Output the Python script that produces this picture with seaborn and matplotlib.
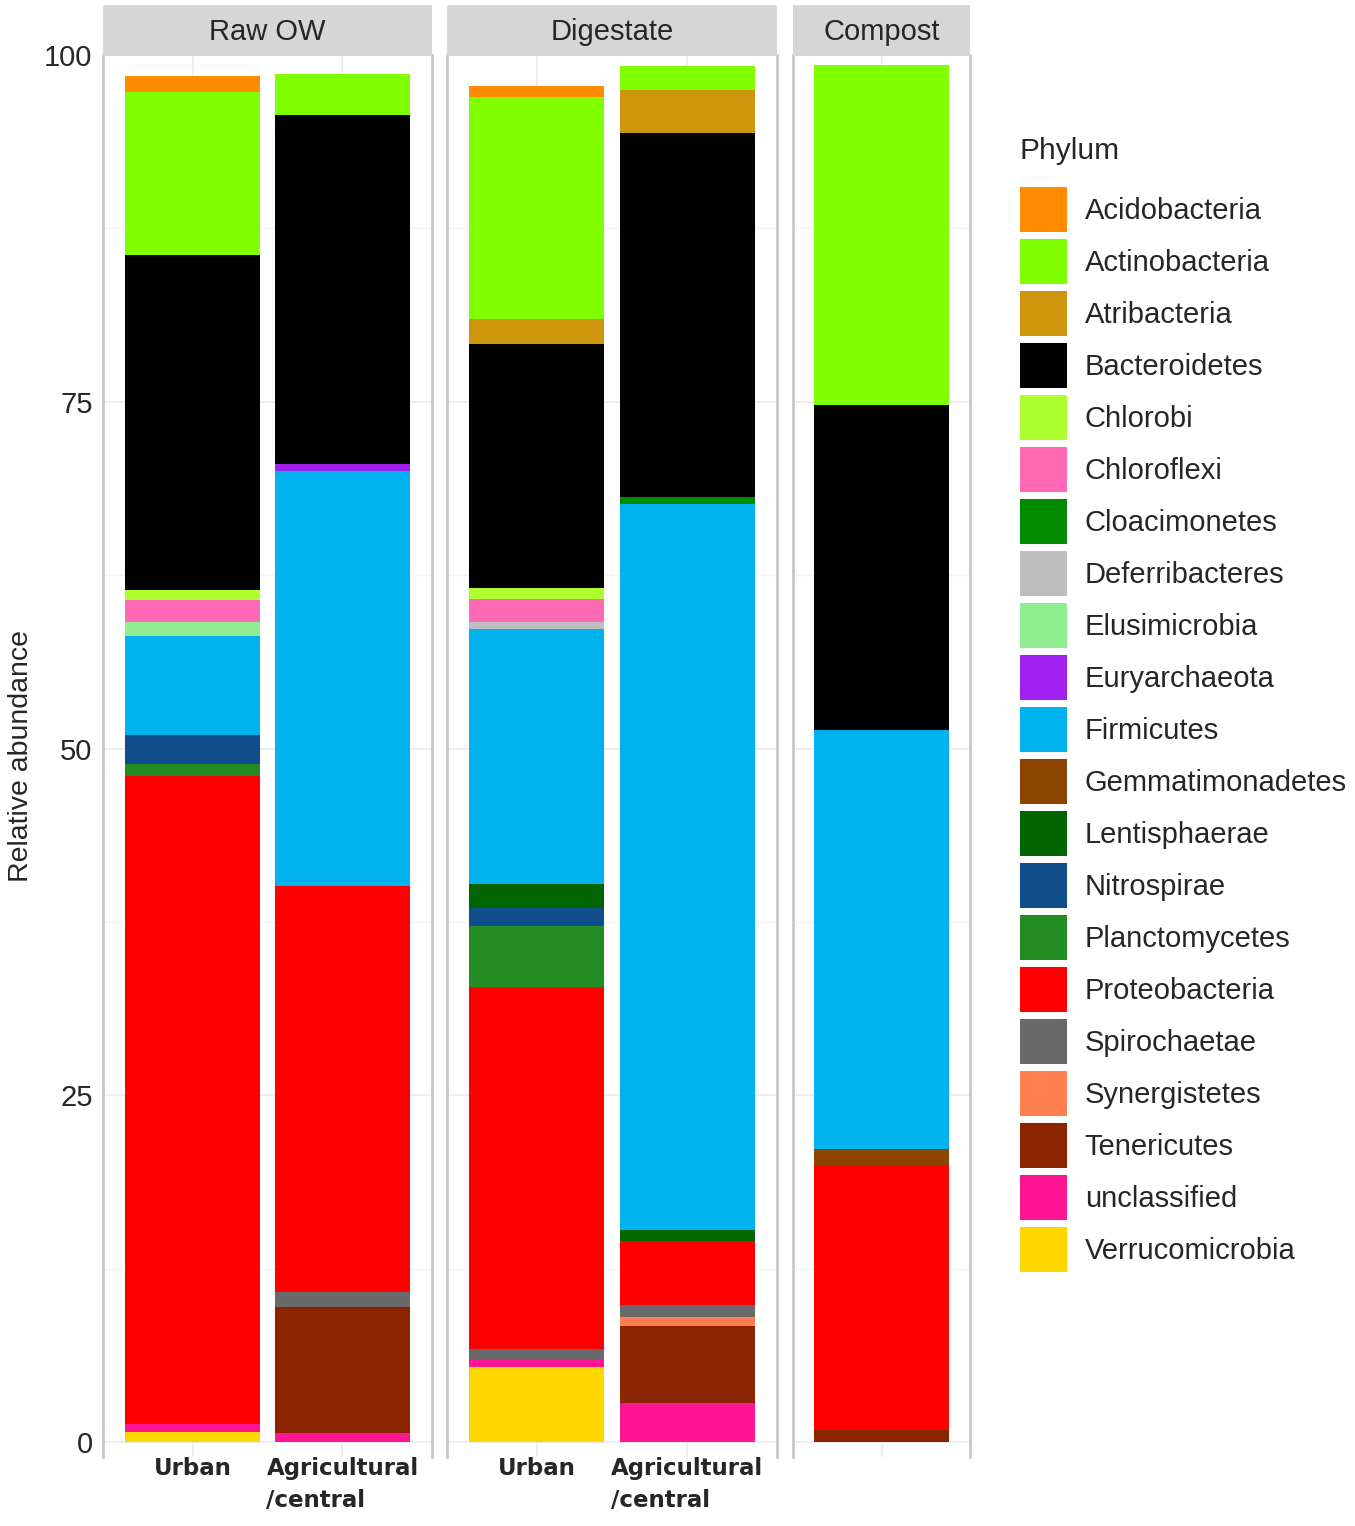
import numpy as np
import pandas as pd
import matplotlib
matplotlib.use("Agg")
import matplotlib.pyplot as plt
from matplotlib.patches import Patch
import seaborn as sns

# legend order = top of stack first
phyla = ['Acidobacteria', 'Actinobacteria', 'Atribacteria', 'Bacteroidetes', 'Chlorobi',
         'Chloroflexi', 'Cloacimonetes', 'Deferribacteres', 'Elusimicrobia', 'Euryarchaeota',
         'Firmicutes', 'Gemmatimonadetes', 'Lentisphaerae', 'Nitrospirae', 'Planctomycetes',
         'Proteobacteria', 'Spirochaetae', 'Synergistetes', 'Tenericutes', 'unclassified',
         'Verrucomicrobia']
phylum_colors = ['#FF8C00', '#7FFF00', '#CD950C', '#000000', '#ADFF2F',
                 '#FF69B4', '#008B00', '#BEBEBE', '#90EE90', '#A020F0',
                 '#00B2EE', '#8B4500', '#006400', '#104E8B', '#228B22',
                 '#FF0000', '#696969', '#FF7F50', '#8B2500', '#FF1493',
                 '#FFD700']

facets = ['Raw OW', 'Digestate', 'Compost']
facet_samples = {'Raw OW': ['Urban', 'Agricultural\n/central'],
                 'Digestate': ['Urban', 'Agricultural\n/central'],
                 'Compost': ['']}

# relative abundance (%) per phylum, same order as `phyla`
raw_urban = [1.2, 11.7, 0, 24.2, 0.7, 1.6, 0, 0, 1.0, 0,
             7.1, 0, 0, 2.1, 0.9, 46.7, 0, 0, 0, 0.6, 0.7]
raw_agri = [0, 2.9, 0, 25.2, 0, 0, 0, 0, 0, 0.5,
            29.9, 0, 0, 0, 0, 29.3, 1.1, 0, 9.05, 0.65, 0]
dig_urban = [0.8, 16.0, 1.8, 17.6, 0.8, 1.7, 0, 0.5, 0, 0,
             18.4, 0, 1.7, 1.3, 4.4, 26.1, 0.8, 0, 0, 0.5, 5.4]
dig_agri = [0, 1.7, 3.1, 26.3, 0, 0, 0.5, 0, 0, 0,
            52.3, 0, 0.8, 0, 0, 4.6, 0.9, 0.6, 5.6, 2.8, 0]
compost = [0, 24.5, 0, 23.5, 0, 0, 0, 0, 0, 0,
           30.2, 1.1, 0, 0, 0, 19.1, 0, 0, 0.9, 0, 0]

values = {('Raw OW', 'Urban'): raw_urban,
          ('Raw OW', 'Agricultural\n/central'): raw_agri,
          ('Digestate', 'Urban'): dig_urban,
          ('Digestate', 'Agricultural\n/central'): dig_agri,
          ('Compost', ''): compost}

rows = []
for (facet, sample), vals in values.items():
    vals = np.array(vals, dtype=float)
    tops = vals[::-1].cumsum()[::-1]  # top of each segment; last phylum sits at the bottom
    for ph, v, t in zip(phyla, vals, tops):
        rows.append({'facet': facet, 'sample': sample, 'Phylum': ph, 'value': v, 'top': t})
df = pd.DataFrame(rows)

sns.set_theme(style='white')
plt.rcParams['font.family'] = ['Liberation Sans', 'DejaVu Sans']

W, H = 1355, 1526
fig = plt.figure(figsize=(W / 100, H / 100), dpi=100)

panel_x = {'Raw OW': (103, 432), 'Digestate': (447, 777), 'Compost': (793, 970)}
p_top, p_bot = 55, 1457
s_top, s_bot = 5, 56

for i, facet in enumerate(facets):
    x0, x1 = panel_x[facet]
    ax = fig.add_axes([x0 / W, 1 - p_bot / H, (x1 - x0) / W, (p_bot - p_top) / H])
    sub = df[df.facet == facet]
    order = facet_samples[facet]
    # stacked bars: draw cumulative tops, tallest first
    for ph, col in zip(phyla, phylum_colors):
        layer = sub[sub.Phylum == ph]
        sns.barplot(data=layer, x='sample', y='top', order=order, color=col,
                    saturation=1, width=0.9, linewidth=0, errorbar=None, ax=ax)
    n = len(order)
    half = 0.597 if n == 2 else 0.59
    ax.set_xlim(-half, n - 1 + half)
    ax.set_ylim(-1.08, 100)
    ax.set_yticks([0, 25, 50, 75, 100])
    ax.set_yticks([12.5, 37.5, 62.5, 87.5], minor=True)
    ax.set_axisbelow(True)
    ax.grid(True, which='major', color='#EBEBEB', lw=1.2)
    ax.grid(True, which='minor', axis='y', color='#F4F4F4', lw=1.0)
    for side in ['top', 'bottom']:
        ax.spines[side].set_visible(False)
    for side in ['left', 'right']:
        ax.spines[side].set_color('#C8C8C8')
        ax.spines[side].set_linewidth(2)
    ax.tick_params(axis='both', which='major', length=4, color='#B0B0B0', width=1)
    ax.tick_params(axis='x', which='major', pad=-4)
    ax.tick_params(axis='y', which='minor', length=0)
    ax.set_xlabel('')
    ax.set_xticks(range(n))
    ax.set_xticklabels(order, fontsize=16.5, fontweight='bold', family='DejaVu Sans',
                       linespacing=1.5, multialignment='left')
    if i == 0:
        ax.set_yticklabels(['0', '25', '50', '75', '100'], fontsize=21)
        ax.set_ylabel('Relative abundance', fontsize=20.5, labelpad=7)
    else:
        ax.set_yticklabels([])
        ax.set_ylabel('')
        ax.tick_params(axis='y', which='major', length=0)

    sax = fig.add_axes([x0 / W, 1 - s_bot / H, (x1 - x0) / W, (s_bot - s_top) / H])
    sax.set_facecolor('#D6D6D6')
    sax.set_xticks([])
    sax.set_yticks([])
    for sp in sax.spines.values():
        sp.set_visible(False)
    sax.text(0.5, 0.47, facet, ha='center', va='center', fontsize=21, transform=sax.transAxes)

handles = [Patch(facecolor=c, edgecolor='none', label=p) for p, c in zip(phyla, phylum_colors)]
fs = 21
fs_px = fs * 100 / 72
# legend key box: height = fs*hh - 0.35*fs*(hh - 0.7)
hh = (45 / fs_px - 0.245) / 0.65
leg = fig.legend(handles=handles, title='Phylum', loc='upper left',
                 bbox_to_anchor=(1008 / W, 1 - 125 / H), frameon=False,
                 fontsize=fs, title_fontsize=21.5, alignment='left',
                 handlelength=47 / fs_px, handleheight=hh,
                 labelspacing=7 / fs_px, handletextpad=0.62, borderaxespad=0)
leg._legend_box.sep = 16

fig.savefig('out.png', dpi=100)
